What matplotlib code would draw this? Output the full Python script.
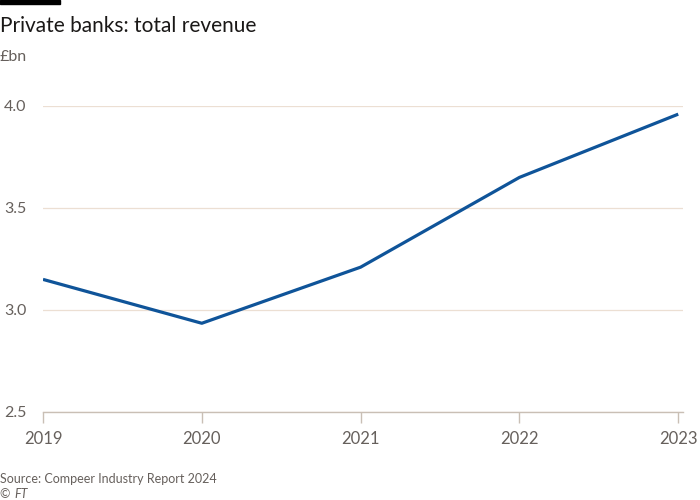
import matplotlib

matplotlib.use("Agg")
import matplotlib.pyplot as plt
from matplotlib.patches import Rectangle

years = [2019, 2020, 2021, 2022, 2023]
revenue = [3.15, 2.935, 3.21, 3.65, 3.96]
y_ticks = [2.5, 3.0, 3.5, 4.0]

plt.rcParams["font.family"] = ["Lato", "DejaVu Sans"]

fig = plt.figure(figsize=(7, 5), dpi=100, facecolor="white")
ax = fig.add_axes([43 / 700, 88 / 500, 640 / 700, 306 / 500])

ax.plot(years, revenue, color="#0f5499", lw=2.3, solid_capstyle="butt", zorder=3)

ax.set_xlim(2019, 2023.03)
ax.set_ylim(2.5, 4.0)
ax.set_yticks(y_ticks)
ax.set_yticklabels([f"{v:.1f}" for v in y_ticks])
ax.set_xticks(years)
ax.set_xticklabels([str(y) for y in years])

for s in ["top", "right", "left"]:
    ax.spines[s].set_visible(False)
ax.spines["bottom"].set_color("#c9bfb5")
ax.spines["bottom"].set_linewidth(1)

ax.grid(True, axis="y", color="#ecdfd3", lw=0.9)
ax.set_axisbelow(True)
ax.tick_params(axis="y", length=0, pad=12, labelsize=11.5, labelcolor="#66605c")
ax.tick_params(axis="x", length=8, width=1, color="#c9bfb5", pad=6,
               labelsize=12, labelcolor="#66605c")

fig.patches.append(Rectangle((0, 1 - 4 / 500), 60 / 700, 4 / 500,
                             transform=fig.transFigure, color="black"))
fig.text(0.0, 1 - 26 / 500, "Private banks: total revenue", fontsize=15,
         color="#1a1817", va="center", ha="left")
fig.text(0.0, 1 - 57 / 500, "£bn", fontsize=11.5, color="#66605c",
         va="center", ha="left")
fig.text(0.0, 1 - 479 / 500, "Source: Compeer Industry Report 2024", fontsize=9,
         color="#66605c", va="center", ha="left")
fig.text(0.0, 1 - 494 / 500, "© ", fontsize=9, color="#66605c",
         va="center", ha="left")
fig.text(14 / 700, 1 - 494 / 500, "FT", fontsize=9, color="#66605c",
         va="center", ha="left", style="italic")

fig.savefig("out.png", dpi=100, facecolor="white")
plt.close(fig)
